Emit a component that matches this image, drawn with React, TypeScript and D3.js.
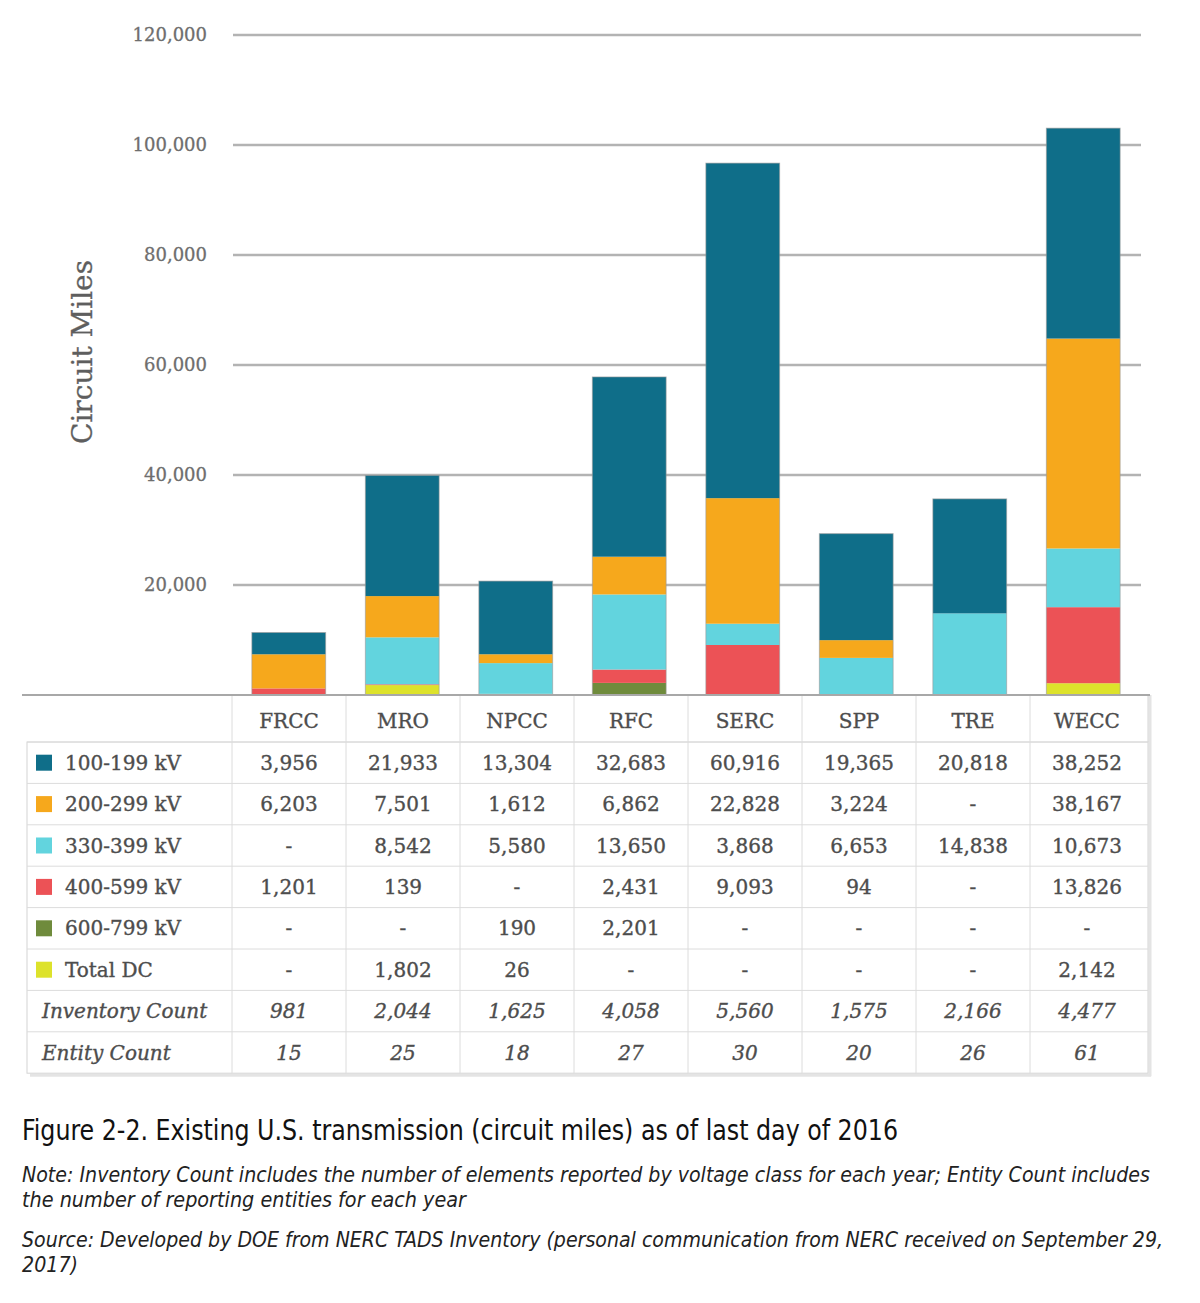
import * as d3 from 'd3';

// regions and circuit miles per voltage class (null = "-")
const regions = ['FRCC', 'MRO', 'NPCC', 'RFC', 'SERC', 'SPP', 'TRE', 'WECC'];
const kv100 = [3956, 21933, 13304, 32683, 60916, 19365, 20818, 38252];
const kv200 = [6203, 7501, 1612, 6862, 22828, 3224, null, 38167];
const kv330 = [null, 8542, 5580, 13650, 3868, 6653, 14838, 10673];
const kv400 = [1201, 139, null, 2431, 9093, 94, null, 13826];
const kv600 = [null, null, 190, 2201, null, null, null, null];
const totalDC = [null, 1802, 26, null, null, null, null, 2142];
const inventoryCount = [981, 2044, 1625, 4058, 5560, 1575, 2166, 4477];
const entityCount = [15, 25, 18, 27, 30, 20, 26, 61];
const yTicks = [20000, 40000, 60000, 80000, 100000, 120000];

const series = [
  { key: '100-199 kV', values: kv100, color: '#0f6e89' },
  { key: '200-299 kV', values: kv200, color: '#f6a81c' },
  { key: '330-399 kV', values: kv330, color: '#62d4de' },
  { key: '400-599 kV', values: kv400, color: '#ec5256' },
  { key: '600-799 kV', values: kv600, color: '#6f8b3c' },
  { key: 'Total DC', values: totalDC, color: '#dde22b' },
];

const SERIF = '"DejaVu Serif", "Liberation Serif", serif';
const SANS = '"DejaVu Sans Condensed", "Liberation Sans Narrow", "Noto Sans", sans-serif';

const Y0 = 695;
const ROW_TOP = 742;
const ROW_H = 41.4;
const TABLE_LEFT = 27;
const TABLE_RIGHT = 1148;
const TEXT = '#4d4d4d';

export default function App() {
  const y = d3.scaleLinear().domain([0, 120000]).range([Y0, 35]);
  const xBar = d3.scaleBand<string>().domain(regions).range([232, 1140]).paddingInner(0.35).paddingOuter(0.175);
  const xCol = d3.scaleBand<string>().domain(regions).range([232, 1144]);

  // stack from bottom (DC) to top (100-199 kV)
  const rows = regions.map((r, i) => {
    const o: Record<string, number | string> = { region: r };
    series.forEach((s) => (o[s.key] = s.values[i] ?? 0));
    return o;
  });
  const stackKeys = series.map((s) => s.key).reverse();
  const stacked = d3.stack<Record<string, number | string>>().keys(stackKeys)(rows as any);
  const colorOf = (k: string) => series.find((s) => s.key === k)!.color;
  const fmt = d3.format(',');
  const cell = (v: number | null) => (v == null ? '-' : fmt(v));

  const tableRows = [
    ...series.map((s) => ({ label: s.key, color: s.color, values: s.values, italic: false })),
    { label: 'Inventory Count', color: null, values: inventoryCount, italic: true },
    { label: 'Entity Count', color: null, values: entityCount, italic: true },
  ];
  const tableBottom = ROW_TOP + ROW_H * tableRows.length;

  return (
    <svg width={1200} height={1303} style={{ position: 'absolute', left: 0, top: 0, background: '#fff' }}>
      <rect width={1200} height={1303} fill="#fff" />

      {/* gridlines + tick labels */}
      {yTicks.map((t) => (
        <g key={t}>
          <line x1={233} x2={1141} y1={y(t)} y2={y(t)} stroke="#b3b3b3" strokeWidth={2.5} />
          <text x={207} y={y(t)} dy="0.35em" textAnchor="end" fontFamily={SERIF} fontSize={18}
            fill="#6e6e6e" stroke="#6e6e6e" strokeWidth={0.3}>
            {fmt(t)}
          </text>
        </g>
      ))}
      <text
        transform={`translate(92, 352) rotate(-90)`}
        textAnchor="middle"
        fontFamily={SERIF}
        fontSize={28}
        fill="#5e5e5e"
        stroke="#5e5e5e"
        strokeWidth={0.3}
      >
        Circuit Miles
      </text>

      {/* stacked bars */}
      {stacked.map((layer) => (
        <g key={layer.key} fill={colorOf(layer.key)}>
          {layer.map((d, i) =>
            d[1] - d[0] > 0 ? (
              <rect
                key={i}
                x={xBar(regions[i])}
                y={y(d[1])}
                width={xBar.bandwidth()}
                height={y(d[0]) - y(d[1])}
              />
            ) : null
          )}
        </g>
      ))}
      {regions.map((r, i) => {
        const total = d3.sum(series, (s) => s.values[i] ?? 0);
        return (
          <rect
            key={r}
            x={xBar(r)}
            y={y(total)}
            width={xBar.bandwidth()}
            height={Y0 - y(total)}
            fill="none"
            stroke="#9a9a9a"
            strokeOpacity={0.6}
            strokeWidth={1}
          />
        );
      })}

      {/* table */}
      <line x1={TABLE_LEFT + 3} x2={TABLE_RIGHT + 3} y1={tableBottom + 2} y2={tableBottom + 2} stroke="#e4e4e4" strokeWidth={3} />
      <line x1={TABLE_RIGHT + 2} x2={TABLE_RIGHT + 2} y1={Y0} y2={tableBottom + 3} stroke="#e4e4e4" strokeWidth={3} />
      <rect x={TABLE_LEFT} y={ROW_TOP} width={TABLE_RIGHT - TABLE_LEFT} height={tableBottom - ROW_TOP} fill="none" stroke="#d4d4d4" />
      <line x1={TABLE_RIGHT} x2={TABLE_RIGHT} y1={Y0} y2={ROW_TOP} stroke="#d4d4d4" />
      {tableRows.map((_, j) => (
        <line key={j} x1={TABLE_LEFT} x2={TABLE_RIGHT} y1={ROW_TOP + ROW_H * j} y2={ROW_TOP + ROW_H * j} stroke="#dcdcdc" />
      ))}
      {regions.map((r) => (
        <line key={r} x1={xCol(r)} x2={xCol(r)} y1={Y0} y2={tableBottom} stroke="#dcdcdc" />
      ))}
      <line x1={22} x2={1150} y1={Y0} y2={Y0} stroke="#a8a8a8" strokeWidth={2} />

      <g fontFamily={SERIF} fontSize={20} fill={TEXT} stroke={TEXT} strokeWidth={0.35}>
        {regions.map((r) => (
          <text
            key={r}
            x={xCol(r)! + xCol.bandwidth() / 2}
            y={(Y0 + ROW_TOP) / 2 + 2}
            dy="0.35em"
            textAnchor="middle"
          >
            {r}
          </text>
        ))}

        {tableRows.map((row, j) => {
          const cy = ROW_TOP + ROW_H * (j + 0.5);
          return (
            <g key={row.label} fontStyle={row.italic ? 'italic' : 'normal'}>
              {row.color && <rect x={36} y={cy - 8} width={16} height={16} fill={row.color} stroke="none" />}
              <text x={row.color ? 65 : 42} y={cy} dy="0.35em">
                {row.label}
              </text>
              {row.values.map((v, i) => (
                <text
                  key={i}
                  x={xCol(regions[i])! + xCol.bandwidth() / 2}
                  y={cy}
                  dy="0.35em"
                  textAnchor="middle"
                >
                  {cell(v)}
                </text>
              ))}
            </g>
          );
        })}
      </g>

      {/* caption */}
      <text x={22} y={1140} fontFamily={SANS} fontSize={28} fill="#111" textLength={876} lengthAdjust="spacingAndGlyphs">
        Figure 2-2. Existing U.S. transmission (circuit miles) as of last day of 2016
      </text>
      <g fontFamily={SANS} fontSize={21} fontStyle="italic" fill="#222">
        <text x={22} y={1182} textLength={1128} lengthAdjust="spacingAndGlyphs">
          Note: Inventory Count includes the number of elements reported by voltage class for each year; Entity Count includes
        </text>
        <text x={22} y={1207} textLength={444} lengthAdjust="spacingAndGlyphs">
          the number of reporting entities for each year
        </text>
        <text x={22} y={1247} textLength={1141} lengthAdjust="spacingAndGlyphs">
          Source: Developed by DOE from NERC TADS Inventory (personal communication from NERC received on September 29,
        </text>
        <text x={22} y={1272} textLength={56} lengthAdjust="spacingAndGlyphs">
          2017)
        </text>
      </g>
    </svg>
  );
}
